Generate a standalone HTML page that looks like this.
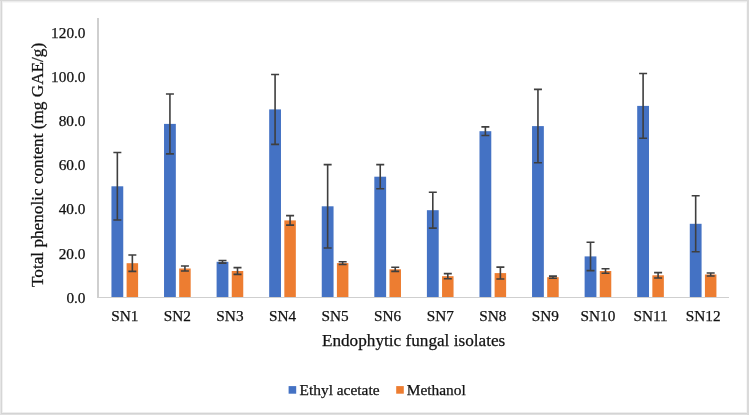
<!DOCTYPE html>
<html><head><meta charset="utf-8"><style>
html,body{margin:0;padding:0;background:#fff;}
body{width:749px;height:415px;overflow:hidden;position:relative;}
svg{position:absolute;left:0;top:0;will-change:transform;}
text{font-family:"Liberation Serif",serif;fill:#111;stroke:#111;stroke-width:0.25px;}
</style></head><body>
<svg width="749" height="415" viewBox="0 0 749 415">
<rect x="0" y="0" width="749" height="415" fill="#fff"/>
<rect x="0" y="0" width="749" height="1" fill="#d8d8d8"/>
<rect x="2" y="1" width="745" height="1" fill="#ececec"/>
<rect x="3" y="2" width="743" height="1" fill="#f7f7f7"/>
<rect x="0" y="1" width="1" height="414" fill="#e6e6e6"/>
<rect x="1" y="1" width="1" height="413" fill="#d6d6d6"/>
<rect x="2" y="2" width="1" height="410" fill="#f1f1f1"/>
<rect x="746" y="2" width="1" height="410" fill="#f7f7f7"/>
<rect x="747" y="0" width="2" height="415" fill="#dadada"/>
<rect x="2" y="412" width="745" height="1" fill="#eeeeee"/>
<rect x="1" y="413" width="746" height="1" fill="#d4d4d4"/>
<rect x="0" y="414" width="747" height="1" fill="#e0e0e0"/>
<rect x="111.45" y="186.30" width="11.8" height="110.70" fill="#4472C4"/>
<rect x="126.60" y="263.20" width="11.5" height="33.80" fill="#ED7D31"/>
<rect x="164.03" y="123.90" width="11.8" height="173.10" fill="#4472C4"/>
<rect x="179.18" y="268.50" width="11.5" height="28.50" fill="#ED7D31"/>
<rect x="216.60" y="261.80" width="11.8" height="35.20" fill="#4472C4"/>
<rect x="231.75" y="271.00" width="11.5" height="26.00" fill="#ED7D31"/>
<rect x="269.18" y="109.40" width="11.8" height="187.60" fill="#4472C4"/>
<rect x="284.33" y="220.40" width="11.5" height="76.60" fill="#ED7D31"/>
<rect x="321.75" y="206.30" width="11.8" height="90.70" fill="#4472C4"/>
<rect x="336.90" y="263.10" width="11.5" height="33.90" fill="#ED7D31"/>
<rect x="374.32" y="176.70" width="11.8" height="120.30" fill="#4472C4"/>
<rect x="389.48" y="269.30" width="11.5" height="27.70" fill="#ED7D31"/>
<rect x="426.90" y="210.20" width="11.8" height="86.80" fill="#4472C4"/>
<rect x="442.05" y="276.20" width="11.5" height="20.80" fill="#ED7D31"/>
<rect x="479.48" y="131.20" width="11.8" height="165.80" fill="#4472C4"/>
<rect x="494.62" y="273.10" width="11.5" height="23.90" fill="#ED7D31"/>
<rect x="532.05" y="126.10" width="11.8" height="170.90" fill="#4472C4"/>
<rect x="547.20" y="277.20" width="11.5" height="19.80" fill="#ED7D31"/>
<rect x="584.62" y="256.40" width="11.8" height="40.60" fill="#4472C4"/>
<rect x="599.77" y="271.00" width="11.5" height="26.00" fill="#ED7D31"/>
<rect x="637.20" y="105.90" width="11.8" height="191.10" fill="#4472C4"/>
<rect x="652.35" y="275.30" width="11.5" height="21.70" fill="#ED7D31"/>
<rect x="689.78" y="223.80" width="11.8" height="73.20" fill="#4472C4"/>
<rect x="704.93" y="274.50" width="11.5" height="22.50" fill="#ED7D31"/>
<path d="M117.35 152.55V220.05M113.35 152.55H121.35M113.35 220.05H121.35" stroke="#3f3f3f" stroke-width="1.6" fill="none"/>
<path d="M132.35 255.00V271.40M128.35 255.00H136.35M128.35 271.40H136.35" stroke="#3f3f3f" stroke-width="1.6" fill="none"/>
<path d="M169.93 93.95V153.85M165.93 93.95H173.93M165.93 153.85H173.93" stroke="#3f3f3f" stroke-width="1.6" fill="none"/>
<path d="M184.93 266.00V271.00M180.93 266.00H188.93M180.93 271.00H188.93" stroke="#3f3f3f" stroke-width="1.6" fill="none"/>
<path d="M222.50 260.50V263.10M218.50 260.50H226.50M218.50 263.10H226.50" stroke="#3f3f3f" stroke-width="1.6" fill="none"/>
<path d="M237.50 267.60V274.40M233.50 267.60H241.50M233.50 274.40H241.50" stroke="#3f3f3f" stroke-width="1.6" fill="none"/>
<path d="M275.08 74.45V144.35M271.08 74.45H279.08M271.08 144.35H279.08" stroke="#3f3f3f" stroke-width="1.6" fill="none"/>
<path d="M290.08 215.65V225.15M286.08 215.65H294.08M286.08 225.15H294.08" stroke="#3f3f3f" stroke-width="1.6" fill="none"/>
<path d="M327.65 164.65V247.95M323.65 164.65H331.65M323.65 247.95H331.65" stroke="#3f3f3f" stroke-width="1.6" fill="none"/>
<path d="M342.65 261.75V264.45M338.65 261.75H346.65M338.65 264.45H346.65" stroke="#3f3f3f" stroke-width="1.6" fill="none"/>
<path d="M380.23 164.65V188.75M376.23 164.65H384.23M376.23 188.75H384.23" stroke="#3f3f3f" stroke-width="1.6" fill="none"/>
<path d="M395.23 267.25V271.35M391.23 267.25H399.23M391.23 271.35H399.23" stroke="#3f3f3f" stroke-width="1.6" fill="none"/>
<path d="M432.80 192.25V228.15M428.80 192.25H436.80M428.80 228.15H436.80" stroke="#3f3f3f" stroke-width="1.6" fill="none"/>
<path d="M447.80 273.65V278.75M443.80 273.65H451.80M443.80 278.75H451.80" stroke="#3f3f3f" stroke-width="1.6" fill="none"/>
<path d="M485.38 126.85V135.55M481.38 126.85H489.38M481.38 135.55H489.38" stroke="#3f3f3f" stroke-width="1.6" fill="none"/>
<path d="M500.38 267.15V279.05M496.38 267.15H504.38M496.38 279.05H504.38" stroke="#3f3f3f" stroke-width="1.6" fill="none"/>
<path d="M537.95 89.40V162.80M533.95 89.40H541.95M533.95 162.80H541.95" stroke="#3f3f3f" stroke-width="1.6" fill="none"/>
<path d="M552.95 276.15V278.25M548.95 276.15H556.95M548.95 278.25H556.95" stroke="#3f3f3f" stroke-width="1.6" fill="none"/>
<path d="M590.52 242.20V270.60M586.52 242.20H594.52M586.52 270.60H594.52" stroke="#3f3f3f" stroke-width="1.6" fill="none"/>
<path d="M605.52 268.70V273.30M601.52 268.70H609.52M601.52 273.30H609.52" stroke="#3f3f3f" stroke-width="1.6" fill="none"/>
<path d="M643.10 73.55V138.25M639.10 73.55H647.10M639.10 138.25H647.10" stroke="#3f3f3f" stroke-width="1.6" fill="none"/>
<path d="M658.10 272.60V278.00M654.10 272.60H662.10M654.10 278.00H662.10" stroke="#3f3f3f" stroke-width="1.6" fill="none"/>
<path d="M695.68 195.80V251.80M691.68 195.80H699.68M691.68 251.80H699.68" stroke="#3f3f3f" stroke-width="1.6" fill="none"/>
<path d="M710.68 273.05V275.95M706.68 273.05H714.68M706.68 275.95H714.68" stroke="#3f3f3f" stroke-width="1.6" fill="none"/>
<rect x="97.2" y="18" width="1.6" height="279.5" fill="#c4c4c4"/>
<rect x="97" y="297" width="632" height="1" fill="#cfcfcf"/>
<g font-size="15.3px">
<text x="85.5" y="302.70" text-anchor="end">0.0</text>
<text x="85.5" y="258.57" text-anchor="end">20.0</text>
<text x="85.5" y="214.45" text-anchor="end">40.0</text>
<text x="85.5" y="170.32" text-anchor="end">60.0</text>
<text x="85.5" y="126.20" text-anchor="end">80.0</text>
<text x="85.5" y="82.07" text-anchor="end">100.0</text>
<text x="85.5" y="37.94" text-anchor="end">120.0</text>
<text x="124.79" y="320.6" text-anchor="middle">SN1</text>
<text x="177.37" y="320.6" text-anchor="middle">SN2</text>
<text x="229.94" y="320.6" text-anchor="middle">SN3</text>
<text x="282.52" y="320.6" text-anchor="middle">SN4</text>
<text x="335.09" y="320.6" text-anchor="middle">SN5</text>
<text x="387.67" y="320.6" text-anchor="middle">SN6</text>
<text x="440.24" y="320.6" text-anchor="middle">SN7</text>
<text x="492.82" y="320.6" text-anchor="middle">SN8</text>
<text x="545.39" y="320.6" text-anchor="middle">SN9</text>
<text x="597.97" y="320.6" text-anchor="middle">SN10</text>
<text x="650.54" y="320.6" text-anchor="middle">SN11</text>
<text x="703.12" y="320.6" text-anchor="middle">SN12</text>
</g>
<text x="413.6" y="345.6" text-anchor="middle" font-size="17.2px">Endophytic fungal isolates</text>
<text transform="translate(42.8 164.9) rotate(-90)" x="0" y="0" text-anchor="middle" font-size="17.2px">Total phenolic content (mg GAE/g)</text>
<rect x="288.6" y="386.1" width="7.6" height="7.6" fill="#4472C4"/>
<text x="299.6" y="394.9" font-size="15.4px">Ethyl acetate</text>
<rect x="396.2" y="386.1" width="7.6" height="7.6" fill="#ED7D31"/>
<text x="406.8" y="394.9" font-size="15.4px">Methanol</text>
</svg>
</body></html>
